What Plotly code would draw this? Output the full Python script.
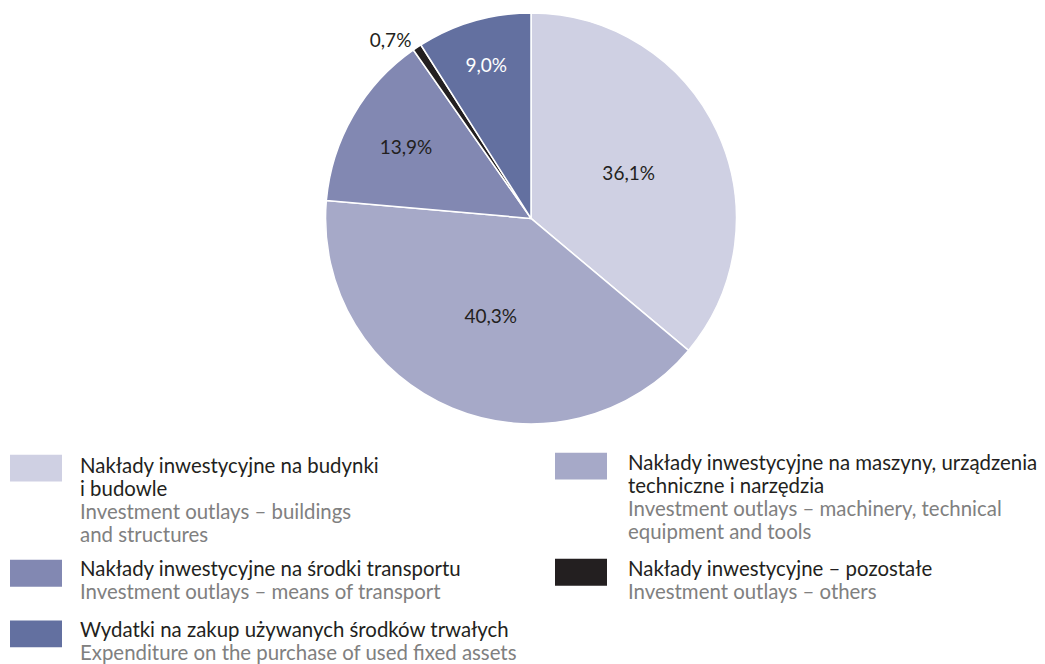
import plotly.graph_objects as go

# dane
labels = [
    "Budynki i budowle",
    "Maszyny, urządzenia techniczne i narzędzia",
    "Środki transportu",
    "Pozostałe",
    "Używane środki trwałe",
]
values = [36.1, 40.3, 13.9, 0.7, 9.0]
colors = ["#CFD0E3", "#A6A9C8", "#8288B2", "#231F20", "#6370A0"]
text_colors = ["#231F20", "#231F20", "#231F20", "#231F20", "#FFFFFF"]
text_pos = ["inside", "inside", "inside", "outside", "inside"]

legend_pl = [
    ["Nakłady inwestycyjne na budynki", "i budowle"],
    ["Nakłady inwestycyjne na maszyny, urządzenia", "techniczne i narzędzia"],
    ["Nakłady inwestycyjne na środki transportu"],
    ["Nakłady inwestycyjne – pozostałe"],
    ["Wydatki na zakup używanych środków trwałych"],
]
legend_en = [
    ["Investment outlays – buildings", "and structures"],
    ["Investment outlays – machinery, technical", "equipment and tools"],
    ["Investment outlays – means of transport"],
    ["Investment outlays – others"],
    ["Expenditure on the purchase of used fixed assets"],
]

W, H = 1045, 664
OFF = 8  # margines body strony
FONT = "Lato"


def px(x):
    return (x - OFF) / W


def py(y):
    return min(1.0, 1 - (y - OFF) / H)


fig = go.Figure(go.Pie(
    labels=labels,
    values=values,
    sort=False,
    direction="clockwise",
    rotation=0,
    marker=dict(colors=colors, line=dict(color="white", width=1.5)),
    texttemplate="%{percent:.1%}",
    textposition=text_pos,
    insidetextorientation="horizontal",
    textfont=dict(color=text_colors, size=19, family=FONT),
    outsidetextfont=dict(color="#231F20", size=19, family=FONT),
    showlegend=False,
    domain=dict(x=[px(319), px(743)], y=[py(422), py(8)]),
))

# legenda (ręcznie): lewa kolumna 0,2,4 ; prawa 1,3
slots = {
    0: (10, 453, 80, 463),
    1: (555, 451, 628, 460),
    2: (10, 559, 80, 567),
    3: (555, 558, 628, 567),
    4: (10, 620, 80, 629),
}
LINE = 23.3
shapes = []
annotations = []
for i, (sx, sy, tx, ty) in slots.items():
    shapes.append(dict(type="rect", xref="paper", yref="paper",
                       x0=px(sx), x1=px(sx + 52), y0=py(sy + 27), y1=py(sy),
                       fillcolor=colors[i], line=dict(width=0)))
    lines = [(t, "#231F20") for t in legend_pl[i]] + [(t, "#808080") for t in legend_en[i]]
    for k, (t, c) in enumerate(lines):
        annotations.append(dict(
            xref="paper", yref="paper", x=px(tx), y=py(ty + LINE * k),
            xanchor="left", yanchor="middle", align="left", showarrow=False,
            xshift=-2,
            text=t, font=dict(size=20.4, color=c, family=FONT),
        ))

fig.update_layout(
    width=W, height=H,
    margin=dict(l=0, r=0, t=0, b=0),
    paper_bgcolor="white",
    separators=", ",
    font=dict(family=FONT, size=19, color="#231F20"),
    shapes=shapes,
    annotations=annotations,
)

fig.write_html("out.html")
